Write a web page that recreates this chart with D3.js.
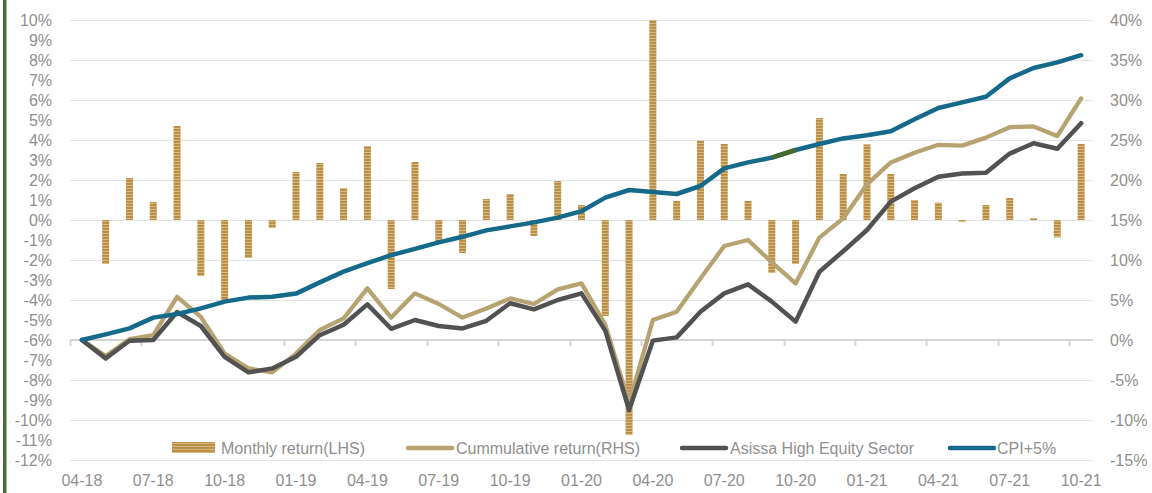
<!DOCTYPE html>
<html><head><meta charset="utf-8">
<script src="https://cdn.jsdelivr.net/npm/d3@7/dist/d3.min.js"></script>
<style>
html,body{margin:0;padding:0;background:#fff;}
svg{display:block;}
text{font-family:"Liberation Sans",Arial,sans-serif;fill:#8f8f8f;}
</style></head>
<body>
<svg id="chart" width="1152" height="493"></svg>
<script>
const categories = ["04-18","05-18","06-18","07-18","08-18","09-18","10-18","11-18","12-18",
"01-19","02-19","03-19","04-19","05-19","06-19","07-19","08-19","09-19","10-19","11-19","12-19",
"01-20","02-20","03-20","04-20","05-20","06-20","07-20","08-20","09-20","10-20","11-20","12-20",
"01-21","02-21","03-21","04-21","05-21","06-21","07-21","08-21","09-21","10-21"];

// Monthly return (LHS, %)
const monthlyReturn = [null,-2.2,2.1,0.9,4.7,-2.8,-4.0,-1.9,-0.4,
2.4,2.85,1.6,3.7,-3.45,2.9,-1.05,-1.65,1.05,1.3,-0.8,1.95,
0.75,-4.8,-10.75,10.0,0.95,3.97,3.8,0.95,-2.65,-2.2,5.1,2.3,
3.78,2.3,1.0,0.87,-0.1,0.75,1.1,0.1,-0.87,3.8];

// Cumulative return (RHS, %)
const cumulativeReturn = [0,-2.0,0.1,0.6,5.4,2.9,-1.7,-3.55,-4.05,
-1.7,1.25,2.7,6.45,2.8,5.83,4.5,2.8,3.95,5.2,4.5,6.33,
7.08,1.9,-7.9,2.5,3.54,7.7,11.75,12.5,9.7,7.08,12.8,15.2,
19.46,22.2,23.4,24.4,24.3,25.3,26.6,26.7,25.5,30.2];

// Asissa High Equity Sector (RHS, %)
const sectorReturn = [0,-2.3,-0.1,0,3.5,1.75,-2.1,-4.05,-3.55,
-2.1,0.6,1.9,4.45,1.4,2.5,1.75,1.45,2.4,4.6,3.83,5.0,
5.83,1.17,-8.75,-0.08,0.33,3.54,5.83,6.96,4.8,2.3,8.54,11.1,
13.75,17.3,18.96,20.4,20.8,20.9,23.3,24.6,23.9,27.1];

// CPI+5% (RHS, %)
const cpiPlus5 = [0,0.7,1.45,2.8,3.25,3.95,4.8,5.3,5.4,
5.8,7.2,8.55,9.6,10.6,11.4,12.2,12.9,13.7,14.2,14.7,15.3,
16.1,17.8,18.75,18.5,18.25,19.25,21.45,22.2,22.8,23.75,24.5,25.2,
25.6,26.1,27.6,29.0,29.7,30.4,32.7,34.0,34.7,35.6];

const leftTicks = d3.range(-12, 11, 1);
const rightTicks = d3.range(-15, 41, 5);
const legendLabels = ["Monthly return(LHS)","Cummulative return(RHS)","Asissa High Equity Sector","CPI+5%"];

const svg = d3.select("#chart");
const L = 70, R = 1093, T = 20, B = 460;
const FS = 16;

const x = d3.scaleBand().domain(categories).range([L, R]).padding(0);
const yL = d3.scaleLinear().domain([-12, 10]).range([B, T]);
const yR = d3.scaleLinear().domain([-15, 40]).range([B, T]);

// pattern for bars
const defs = svg.append("defs");
const pat = defs.append("pattern").attr("id","stripe").attr("patternUnits","userSpaceOnUse")
  .attr("width", 8).attr("height", 3);
pat.append("rect").attr("width",8).attr("height",3).attr("fill","#d6b97f");
pat.append("rect").attr("width",8).attr("height",1.8).attr("fill","#b98a40");

// left green edge
svg.append("rect").attr("x",3).attr("y",0).attr("width",3.5).attr("height",493).attr("fill","#4b6e31");

// gridlines (at right-axis ticks)
svg.append("g").selectAll("line").data(rightTicks).join("line")
  .attr("x1", L).attr("x2", R)
  .attr("y1", d => Math.round(yR(d)) + 0.5).attr("y2", d => Math.round(yR(d)) + 0.5)
  .attr("stroke", "#e3e3e3").attr("stroke-width", 1.2);

// left axis
const gL = svg.append("g").attr("transform", `translate(${L - 18},0)`)
  .call(d3.axisLeft(yL).tickValues(leftTicks).tickSize(0).tickPadding(0).tickFormat(d => d + "%"));
gL.select(".domain").remove();
gL.selectAll("text").attr("font-size", FS).attr("fill", "#8f8f8f").attr("dy","0.35em");

// right axis
const gR = svg.append("g").attr("transform", `translate(${R + 17},0)`)
  .call(d3.axisRight(yR).tickValues(rightTicks).tickSize(0).tickPadding(0).tickFormat(d => d + "%"));
gR.select(".domain").remove();
gR.selectAll("text").attr("font-size", FS).attr("fill", "#8f8f8f").attr("dy","0.35em");

// category axis line at right 0%
const y0 = yR(0);
svg.append("line").attr("x1", L).attr("x2", R).attr("y1", y0).attr("y2", y0)
  .attr("stroke", "#d4d4d4").attr("stroke-width", 2.2);
const tickCats = categories.filter((c, i) => i % 3 === 0);
svg.append("g").selectAll("line").data(tickCats).join("line")
  .attr("x1", d => Math.round(x(d)) + 0.5).attr("x2", d => Math.round(x(d)) + 0.5)
  .attr("y1", y0).attr("y2", y0 + 6)
  .attr("stroke", "#d4d4d4").attr("stroke-width", 2);

// category labels at bottom
const gX = svg.append("g").attr("transform", `translate(0,${B + 20})`)
  .call(d3.axisBottom(x).tickValues(tickCats).tickSize(0).tickPadding(0));
gX.select(".domain").remove();
gX.selectAll("text").attr("font-size", FS).attr("fill", "#8f8f8f").attr("dy", "0.35em");

// bars
const bw = 7;
svg.append("g").selectAll("rect").data(categories.map((c, i) => ({c, v: monthlyReturn[i]})).filter(d => d.v !== null))
  .join("rect")
  .attr("x", d => x(d.c) + x.bandwidth() / 2 - bw / 2)
  .attr("width", bw)
  .attr("y", d => Math.min(yL(d.v), yL(0)))
  .attr("height", d => Math.max(1.5, Math.abs(yL(d.v) - yL(0))))
  .attr("fill", "url(#stripe)");

// lines
const cx = c => x(c) + x.bandwidth() / 2;
const line = d3.line().x((d, i) => cx(categories[i])).y(d => yR(d));
function drawLine(data, color, w) {
  svg.append("path").datum(data).attr("d", line).attr("fill", "none")
    .attr("stroke", color).attr("stroke-width", w)
    .attr("stroke-linejoin", "round").attr("stroke-linecap", "round");
}
drawLine(cumulativeReturn, "#b7a372", 4.3);
drawLine(sectorReturn, "#525252", 4.5);
drawLine(cpiPlus5, "#15698a", 4.5);
// highlighted segment (09-20 to 10-20)
svg.append("path")
  .attr("d", d3.line().x((d, i) => cx(categories[29 + i])).y(d => yR(d))(
    [cpiPlus5[29], cpiPlus5[30]]))
  .attr("fill","none").attr("stroke","#466a2d").attr("stroke-width",4.5);

// legend
const ly = 448;
const lg = svg.append("g");
lg.append("rect").attr("x", 172).attr("y", ly - 6).attr("width", 43).attr("height", 11).attr("fill", "url(#stripe)");
lg.append("text").attr("x", 221).attr("y", ly).attr("dy", "0.35em").attr("font-size", FS).text(legendLabels[0]);
const sw = [
  {x1: 408, x2: 452, c: "#b7a372", tx: 456, t: legendLabels[1]},
  {x1: 682, x2: 726, c: "#525252", tx: 730, t: legendLabels[2]},
  {x1: 950, x2: 994, c: "#15698a", tx: 997, t: legendLabels[3]}
];
sw.forEach(s => {
  lg.append("line").attr("x1", s.x1).attr("x2", s.x2).attr("y1", ly).attr("y2", ly)
    .attr("stroke", s.c).attr("stroke-width", 4.5).attr("stroke-linecap", "round");
  lg.append("text").attr("x", s.tx).attr("y", ly).attr("dy", "0.35em").attr("font-size", FS).text(s.t);
});
</script>
</body></html>
